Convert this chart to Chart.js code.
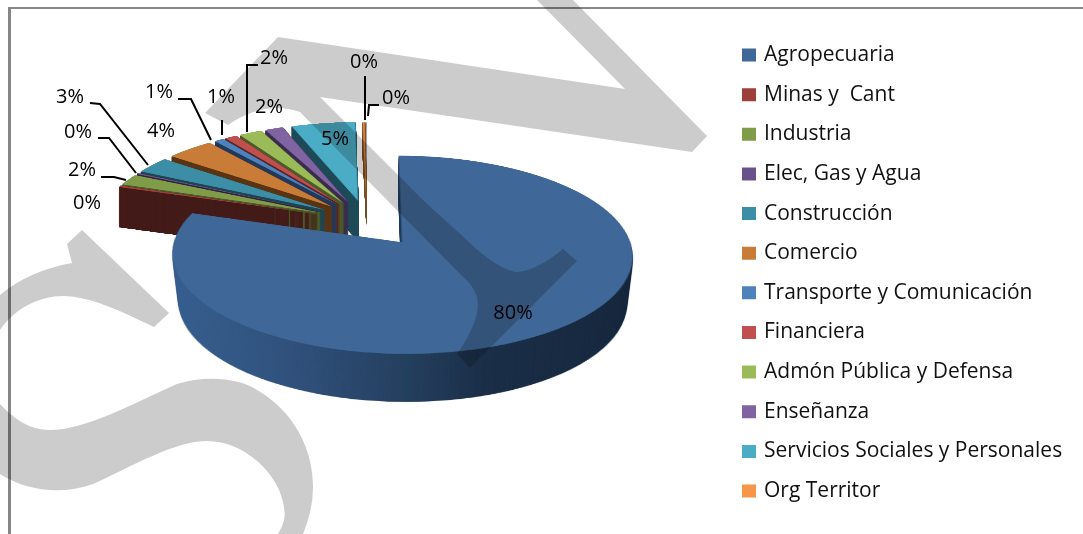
<!DOCTYPE html>
<html><head><meta charset="utf-8">
<style>html,body{margin:0;padding:0;background:#fff}canvas{display:block}</style>
<script src="https://cdn.jsdelivr.net/npm/chart.js@4"></script>
</head><body><canvas id="c" width="1083" height="534"></canvas>
<script>
const categories = ["Agropecuaria","Minas y  Cant","Industria","Elec, Gas y Agua","Construcción","Comercio","Transporte y Comunicación","Financiera","Admón Pública y Defensa","Enseñanza","Servicios Sociales y Personales","Org Territor",""];
const shares = [80,0.3,1.9,0.2,2.9,3.9,0.8,1.0,1.9,1.5,5.3,0.15,0.15];
const faceColors = ["#3f6797","#9e3f3c","#809c48","#69528c","#3b8ea6","#c97c38","#4f81bd","#c0504d","#9bbb59","#8064a2","#4bacc6","#f79646","#a9bcdc"];
const wallColors = ["#2b4666","#431a18","#4a5c28","#2e2440","#1f4452","#5a3513","#22395a","#5c2220","#4a5c28","#3a2c4f","#1e4a58","#7a4a20","#7a5a40"];

// page layout of the annotations (label centres, leader-line polylines)
const labelPos = [[513,313],[87,203],[82,170],[78,132],[70,97],[161,131],[159,92],[221,97],[274,58],[269,107],[335,139],[364,62],[396,98]];
const leaders = [null,null,[[101,177],[114,177],[126,180]],[[98,138],[109,138],[136,173]],[[90,103],[100,104],[148,165]],null,[[178,99],[191,99],[211,140]],[[222,120],[222,135]],[[258,65],[247,65],[247,132]],null,null,[[365,76],[365,120]],[[379,105],[369,105],[368,116]]];

// perspective projection of the flat pie onto the page
const P = {xc:371, yc:224.9, a:0.418, D:1800, explode:50};
const SRC = 800, W = 1083, H = 534;

function newCanvas(w,h){const k=document.createElement('canvas');k.width=w;k.height=h;return k;}
function warpArc(el){
  const src=newCanvas(SRC,SRC), s=src.getContext('2d');
  const mid=(el.startAngle+el.endAngle)/2;
  s.translate(SRC/2-el.x+Math.cos(mid)*P.explode,SRC/2-el.y+Math.sin(mid)*P.explode);
  el.draw(s);
  const out=newCanvas(W,H), o=out.getContext('2d');
  for(let y=60;y<430;y++){
    const g=(y+0.5-P.yc)/P.a, v=g*P.D/(P.D+g), sc=(P.D+g)/P.D, hs=(1/P.a)/(sc*sc);
    o.drawImage(src,0,SRC/2+v-hs/2,SRC,hs,P.xc-SRC/2*sc,y,SRC*sc,1);
  }
  return out;
}
function tint(img,i){
  const t=newCanvas(W,H), c=t.getContext('2d');
  for(let n=0;n<(i===0?1:8);n++)c.drawImage(img,0,0);
  c.globalCompositeOperation='source-atop';
  if(i===0){
    const g=c.createLinearGradient(175,0,633,0);
    g.addColorStop(0,'#38608f');g.addColorStop(.28,'#30507a');g.addColorStop(.5,'#25405f');g.addColorStop(.68,'#1b2f48');g.addColorStop(1,'#18293f');
    c.fillStyle=g;
  } else c.fillStyle=wallColors[i];
  c.fillRect(0,0,W,H);
  return t;
}
const pie3d={id:'pie3d',
  beforeDraw(chart){
    const c=chart.ctx;c.save();c.fillStyle='#fff';c.fillRect(0,0,W,H);
    c.fillStyle='#868686';c.fillRect(8,7,1075,2);c.fillRect(8,7,3,H-7);c.restore();
  },
  afterLayout(chart){
    const l=chart.legend,p=l.options.labels.padding;
    l.left=744.5-p; l.right=W; l.top=55-10.5-p; l.bottom=H;
  },
  beforeDatasetsDraw(chart){
    const c=chart.ctx, arcs=chart.getDatasetMeta(0).data;
    const order=[];for(let i=arcs.length-1;i>=1;i--)order.push(i);order.push(0);
    for(const i of order){
      const face=warpArc(arcs[i]), wall=tint(face,i);
      const depth=i===0?48:(i>=11?25:40), dx=i===0?1:-4, dy=i===0?0:-4, step=i===0?1:0.5;
      for(let h=depth;h>=step;h-=step){
        const k=i===0?1-0.00055*h:1;
        c.drawImage(wall,400*(1-k)+dx,h+dy,W*k,H);
      }
      c.drawImage(face,dx,dy);
    }
    return false;
  },
  afterDraw(chart){
    const c=chart.ctx;c.save();
    c.fillStyle='#000';c.font='20px "Open Sans"';c.textAlign='center';c.textBaseline='middle';
    shares.forEach((v,i)=>c.fillText(Math.round(v)+'%',labelPos[i][0],labelPos[i][1]));
    c.strokeStyle='#000';c.lineWidth=2;
    leaders.forEach(pts=>{if(!pts)return;c.beginPath();pts.forEach((q,j)=>j?c.lineTo(q[0],q[1]):c.moveTo(q[0],q[1]));c.stroke();});
    // watermark
    c.globalCompositeOperation='multiply';c.fillStyle='#cccccc';
    c.beginPath();
    c.moveTo(278,37);c.lineTo(625,89);c.lineTo(537,0);c.lineTo(573,0);c.lineTo(707,136);c.lineTo(692,152);c.lineTo(320,97);
    c.lineTo(423,200);c.lineTo(470,243);c.quadraticCurveTo(495,267,515,272);c.quadraticCurveTo(535,272,563,249);c.lineTo(577,261);c.lineTo(470,368);c.lineTo(457,354);
    c.quadraticCurveTo(482,318,477,297);c.quadraticCurveTo(473,285,463,277);c.lineTo(300,112);c.quadraticCurveTo(265,100,228,125);c.lineTo(205,113);c.closePath();c.fill();
    c.beginPath();
    c.moveTo(82,230);c.lineTo(67,244);c.lineTo(72,263);c.bezierCurveTo(45,268,20,278,0,295);c.lineTo(0,330);c.bezierCurveTo(15,308,40,296,63,296);c.bezierCurveTo(90,296,125,313,154,327);c.lineTo(169,313);c.closePath();c.fill();
    c.beginPath();
    c.moveTo(0,404);c.bezierCurveTo(15,420,30,430,50,430);c.bezierCurveTo(85,430,130,405,177,384);c.bezierCurveTo(205,375,240,378,257,390);c.bezierCurveTo(295,412,313,450,313,487);c.quadraticCurveTo(313,510,303,534);
    c.lineTo(278,534);c.quadraticCurveTo(287,520,284,507);c.bezierCurveTo(280,475,245,441,207,441);c.bezierCurveTo(175,441,135,465,93,484);c.bezierCurveTo(60,496,25,490,0,474);c.closePath();c.fill();
    c.restore();
  }
};
new Chart(document.getElementById('c'),{
  type:'pie',
  data:{labels:categories,datasets:[{data:shares,backgroundColor:faceColors,borderWidth:0}]},
  plugins:[pie3d],
  options:{responsive:false,animation:false,devicePixelRatio:1,radius:223,
    events:[],
    plugins:{tooltip:{enabled:false},
      legend:{position:'right',align:'start',
        labels:{filter:(it)=>{it.lineWidth=5;it.strokeStyle=it.fillStyle;it.lineJoin='miter';return it.index<12;},boxWidth:9,boxHeight:8,padding:18.64,color:'#111',font:{family:'"Open Sans"',size:21}}}}}
});
</script></body></html>
